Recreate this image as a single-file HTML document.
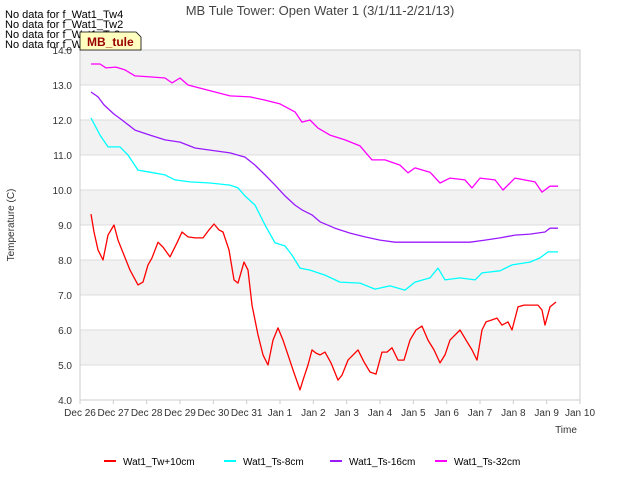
<!DOCTYPE html>
<html><head><meta charset="utf-8"><style>
body{margin:0;background:#fff;font-family:"Liberation Sans",sans-serif}
svg text{font-family:"Liberation Sans",sans-serif}
</style></head><body>
<svg width="640" height="480" id="c">
<text x="320" y="15" text-anchor="middle" font-size="13" fill="#444">MB Tule Tower: Open Water 1 (3/1/11-2/21/13)</text>
<g font-size="11" fill="#000">
<text x="5" y="18">No data for f_Wat1_Tw4</text>
<text x="5" y="28">No data for f_Wat1_Tw2</text>
<text x="5" y="38">No data for f_Wat1_Ts2</text>
<text x="5" y="48">No data for f_Wat1_Ts4</text>
</g>
<g id="bands"></g>
<g id="axes"></g>
<g id="series"></g>
<path d="M80,32 H136 L141,37 V50 H80 Z" fill="#ffffc0" stroke="#000" stroke-width="0.8"/>
<text x="87" y="46" font-size="12" font-weight="bold" fill="#990000">MB_tule</text>
<text x="14" y="225" font-size="10" fill="#333" text-anchor="middle" transform="rotate(-90 14 225)">Temperature (C)</text>
<text x="566" y="433" font-size="10" fill="#333" text-anchor="middle">Time</text>
<g id="legend"></g>
</svg>
<script>
const xTicks=["Dec 26","Dec 27","Dec 28","Dec 29","Dec 30","Dec 31","Jan 1","Jan 2","Jan 3","Jan 4","Jan 5","Jan 6","Jan 7","Jan 8","Jan 9","Jan 10"];
const yTicks=[4,5,6,7,8,9,10,11,12,13,14];
const seriesNames=["Wat1_Tw+10cm","Wat1_Ts-8cm","Wat1_Ts-16cm","Wat1_Ts-32cm"];
const seriesColors=["#ff0000","#00ffff","#9a1aff","#ff00ff"];
const twDays=[.33,.42,.54,.69,.84,1.02,1.14,1.32,1.5,1.74,1.89,2.04,2.16,2.34,2.49,2.7,2.91,3.06,3.24,3.45,3.69,3.87,4.02,4.17,4.29,4.47,4.62,4.74,4.92,5.04,5.16,5.34,5.49,5.64,5.79,5.94,6.09,6.24,6.39,6.6,6.69,6.84,6.96,7.08,7.2,7.35,7.53,7.74,7.86,8.04,8.34,8.52,8.7,8.88,9.06,9.21,9.36,9.54,9.72,9.9,10.08,10.26,10.44,10.62,10.8,10.95,11.1,11.4,11.58,11.76,11.91,12.06,12.18,12.36,12.51,12.66,12.84,12.96,13.14,13.32,13.5,13.74,13.86,13.95,14.1,14.28];
const twVals=[9.31,8.8,8.29,8.0,8.71,9.0,8.57,8.14,7.71,7.29,7.37,7.86,8.06,8.51,8.37,8.09,8.49,8.8,8.66,8.63,8.63,8.86,9.03,8.86,8.8,8.29,7.43,7.34,7.94,7.71,6.71,5.86,5.29,5.0,5.71,6.06,5.71,5.29,4.86,4.29,4.57,5.0,5.43,5.34,5.29,5.37,5.06,4.57,4.71,5.14,5.43,5.09,4.8,4.74,5.37,5.37,5.49,5.14,5.14,5.71,6.0,6.11,5.71,5.43,5.06,5.29,5.71,6.0,5.71,5.43,5.14,6.0,6.23,6.29,6.34,6.14,6.23,6.0,6.66,6.71,6.71,6.71,6.57,6.14,6.66,6.8];
const ts8Days=[.33,.6,.84,1.2,1.44,1.74,2.1,2.55,2.85,3.3,3.9,4.5,4.74,4.95,5.25,5.55,5.85,6.15,6.36,6.6,6.9,7.35,7.8,8.4,8.85,9.3,9.75,10.05,10.5,10.74,10.95,11.4,11.85,12.06,12.6,12.96,13.5,13.8,14.04,14.34];
const ts8Vals=[12.06,11.57,11.23,11.23,11.0,10.57,10.51,10.43,10.29,10.23,10.2,10.14,10.06,9.83,9.57,9.0,8.49,8.4,8.14,7.77,7.71,7.57,7.37,7.34,7.17,7.26,7.14,7.37,7.49,7.77,7.43,7.49,7.43,7.63,7.69,7.86,7.94,8.06,8.23,8.23];
const ts16Days=[.33,.54,.72,1.02,1.26,1.65,2.1,2.55,3.0,3.45,3.9,4.5,4.95,5.25,5.55,5.85,6.15,6.45,6.66,6.96,7.2,7.65,8.1,8.55,9.0,9.45,9.9,10.5,11.1,11.7,12.15,12.6,13.05,13.5,13.95,14.1,14.34];
const ts16Vals=[12.8,12.66,12.43,12.17,12.0,11.71,11.57,11.43,11.37,11.2,11.14,11.06,10.94,10.71,10.43,10.14,9.83,9.57,9.43,9.29,9.09,8.91,8.77,8.66,8.57,8.51,8.51,8.51,8.51,8.51,8.57,8.63,8.71,8.74,8.8,8.91,8.91];
const ts32Days=[.33,.6,.78,1.08,1.35,1.65,2.1,2.55,2.76,3.0,3.24,3.6,4.05,4.5,5.1,5.55,6.0,6.45,6.66,6.9,7.14,7.5,7.95,8.4,8.76,9.15,9.6,9.84,10.05,10.5,10.8,11.1,11.55,11.76,12.0,12.45,12.69,13.05,13.65,13.86,14.1,14.34];
const ts32Vals=[13.6,13.6,13.49,13.51,13.43,13.26,13.23,13.2,13.06,13.2,13.0,12.91,12.8,12.69,12.66,12.57,12.46,12.23,11.94,12.0,11.77,11.57,11.43,11.26,10.86,10.86,10.71,10.49,10.63,10.51,10.2,10.34,10.29,10.06,10.34,10.29,10.0,10.34,10.23,9.94,10.11,10.11];

const NS="http://www.w3.org/2000/svg";
const X0=80,X1=580,Y0=50,Y1=400;
const xs=d=>X0+d*(X1-X0)/15;
const ys=v=>Y1-(v-4)*(Y1-Y0)/10;
function mk(t,a,p){const e=document.createElementNS(NS,t);for(const k in a)e.setAttribute(k,a[k]);p.appendChild(e);return e;}
const bands=document.getElementById('bands');
mk('rect',{x:X0,y:Y0,width:X1-X0,height:Y1-Y0,fill:'#fff'},bands);
for(let v=4;v<14;v++){
  const r=mk('rect',{x:X0,y:ys(v+1),width:X1-X0,height:ys(v)-ys(v+1),fill:(v%2===1)?'#f2f2f2':'#fff'},bands);
  
  
  const g=mk('line',{x1:X0,x2:X1,y1:ys(v),y2:ys(v),stroke:'#dcdcdc','stroke-width':1},bands);
  
  
}
const ax=document.getElementById('axes');
mk('rect',{x:X0,y:Y0,width:X1-X0,height:Y1-Y0,fill:'none',stroke:'#ccc'},ax);
yTicks.forEach(v=>{
  const t=mk('text',{x:X0-8,y:ys(v)+4,'text-anchor':'end','font-size':10,fill:'#333'},ax);t.textContent=v.toFixed(1);
  
  
});
xTicks.forEach((s,i)=>{
  mk('line',{x1:xs(i),x2:xs(i),y1:Y1,y2:Y1+4,stroke:'#ccc'},ax);
  const t=mk('text',{x:xs(i),y:Y1+16,'text-anchor':'middle','font-size':10,fill:'#333'},ax);t.textContent=s;
  
  
});
const sg=document.getElementById('series');
const data=[[twDays,twVals],[ts8Days,ts8Vals],[ts16Days,ts16Vals],[ts32Days,ts32Vals]];
data.forEach(([d,v],i)=>{
  const p=mk('polyline',{points:d.map((x,j)=>xs(x).toFixed(1)+','+ys(v[j]).toFixed(1)).join(' '),fill:'none',stroke:seriesColors[i],'stroke-width':1.3,'stroke-linejoin':'round'},sg);
  
  
});
const lg=document.getElementById('legend');
const lx=[104,224,330,435];
seriesNames.forEach((n,i)=>{
  const l=mk('line',{x1:lx[i],x2:lx[i]+12,y1:461,y2:461,stroke:seriesColors[i],'stroke-width':2},lg);
  
  
  const t=mk('text',{x:lx[i]+19,y:465,'font-size':10,fill:'#000'},lg);t.textContent=n;
  
  
});
</script>
</body></html>
